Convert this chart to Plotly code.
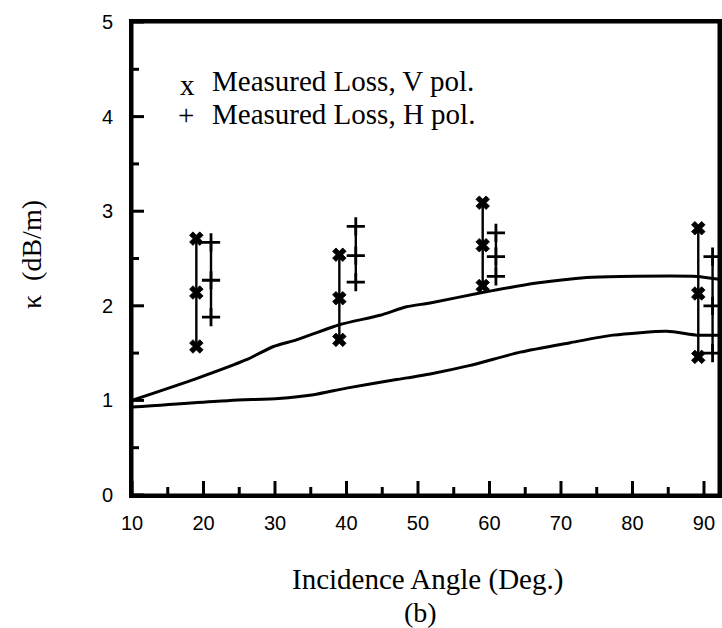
import plotly.graph_objects as go

# ---- data ----
v_angle = [19.0, 39.0, 59.05, 89.2]
v_high = [2.71, 2.54, 3.09, 2.82]
v_mid = [2.14, 2.08, 2.64, 2.13]
v_low = [1.57, 1.64, 2.21, 1.46]

h_angle = [21.05, 41.3, 60.9, 91.2]
h_high = [2.67, 2.84, 2.77, 2.52]
h_mid = [2.27, 2.53, 2.52, 2.00]
h_low = [1.88, 2.25, 2.31, 1.50]

upper_angle = [10, 19, 26, 29.8, 33, 39, 44.7, 48.4, 51.7, 59, 66.6, 73.6, 78.3, 89, 92.1]
upper_k = [1.00, 1.23, 1.43, 1.57, 1.64, 1.80, 1.90, 1.99, 2.03, 2.14, 2.24, 2.30, 2.31, 2.31, 2.28]

lower_angle = [10, 23.7, 30.5, 35.4, 40, 47, 51.7, 57.3, 64.3, 71.3, 77.3, 84.8, 89, 92.1]
lower_k = [0.93, 1.00, 1.02, 1.06, 1.13, 1.22, 1.28, 1.37, 1.51, 1.61, 1.69, 1.73, 1.69, 1.69]

x_major = [10, 20, 30, 40, 50, 60, 70, 80, 90]
x_minor = [15, 25, 35, 45, 55, 65, 75, 85]
y_major = [0, 1, 2, 3, 4, 5]
y_minor = [0.5, 1.5, 2.5, 3.5, 4.5]

legend_v = "Measured Loss, V pol."
legend_h = "Measured Loss, H pol."
x_title = "Incidence Angle (Deg.)"
sub_title = "(b)"
y_title = "κ  (dB/m)"

X_RANGE = [10, 92.1]
Y_RANGE = [0, 5]
PLOT_W, PLOT_H = 587, 473
X_PER_PX = (X_RANGE[1] - X_RANGE[0]) / PLOT_W
Y_PER_PX = (Y_RANGE[1] - Y_RANGE[0]) / PLOT_H

fig = go.Figure()

fig.add_trace(go.Scatter(x=upper_angle, y=upper_k, mode="lines",
                         line=dict(color="black", width=3, shape="spline", smoothing=0.6),
                         showlegend=False))
fig.add_trace(go.Scatter(x=lower_angle, y=lower_k, mode="lines",
                         line=dict(color="black", width=3, shape="spline", smoothing=0.6),
                         showlegend=False))


def grouped(xs, *ys):
    gx, gy = [], []
    for i, x in enumerate(xs):
        for series in ys:
            gx.append(x)
            gy.append(series[i])
        gx.append(None)
        gy.append(None)
    return gx, gy


vx, vy = grouped(v_angle, v_high, v_mid, v_low)
hx, hy = grouped(h_angle, h_high, h_mid, h_low)

fig.add_trace(go.Scatter(x=vx, y=vy, mode="lines+markers",
                         line=dict(color="black", width=2.4),
                         marker=dict(symbol="x", size=12, color="black",
                                     line=dict(color="black", width=0.8)),
                         showlegend=False))
fig.add_trace(go.Scatter(x=hx, y=hy, mode="lines+markers",
                         line=dict(color="black", width=2.4),
                         marker=dict(symbol="cross-thin", size=13, color="black",
                                     line=dict(color="black", width=2.8)),
                         showlegend=False))

# inward tick marks, built from the tick value lists
tx, ty = [], []
for vals, length in ((x_major, 14), (x_minor, 8)):
    for t in vals:
        tx += [t, t, None]
        ty += [Y_RANGE[0], Y_RANGE[0] + length * Y_PER_PX, None]
for vals, length in ((y_major, 12), (y_minor, 7)):
    for t in vals:
        tx += [X_RANGE[0], X_RANGE[0] + length * X_PER_PX, None]
        ty += [t, t, None]
fig.add_trace(go.Scatter(x=tx, y=ty, mode="lines", line=dict(color="black", width=3),
                         cliponaxis=False, showlegend=False, hoverinfo="skip"))

serif = "Liberation Serif, Times New Roman, serif"
sans = "Liberation Sans, Arial, sans-serif"


def px(xp):
    return (xp - 132) / PLOT_W


def py(yp):
    return (495 - yp) / PLOT_H


annotations = [
    dict(text="x", x=px(178), y=py(85), xref="paper", yref="paper",
         xanchor="left", yanchor="middle", showarrow=False,
         font=dict(family=serif, size=29, color="black")),
    dict(text="+", x=px(176), y=py(115), xref="paper", yref="paper",
         xanchor="left", yanchor="middle", showarrow=False,
         font=dict(family=serif, size=29, color="black")),
    dict(text=legend_v, x=px(210), y=py(81), xref="paper", yref="paper",
         xanchor="left", yanchor="middle", showarrow=False,
         font=dict(family=serif, size=29, color="black")),
    dict(text=legend_h, x=px(210), y=py(114), xref="paper", yref="paper",
         xanchor="left", yanchor="middle", showarrow=False,
         font=dict(family=serif, size=29, color="black")),
    dict(text=x_title, x=px(428), y=py(579), xref="paper", yref="paper",
         xanchor="center", yanchor="middle", showarrow=False,
         font=dict(family=serif, size=29, color="black")),
    dict(text=sub_title, x=px(420), y=py(612), xref="paper", yref="paper",
         xanchor="center", yanchor="middle", showarrow=False,
         font=dict(family=serif, size=28, color="black")),
    dict(text=y_title, x=px(31), y=py(255), xref="paper", yref="paper",
         xanchor="center", yanchor="middle", showarrow=False, textangle=-90,
         font=dict(family=serif, size=28, color="black")),
]

shapes = [dict(type="rect", xref="paper", yref="paper", x0=0, x1=1, y0=0, y1=1,
               line=dict(color="black", width=3), fillcolor="rgba(0,0,0,0)", layer="above")]

fig.update_layout(
    width=722, height=628,
    margin=dict(l=132, r=3, t=22, b=133, autoexpand=False),
    paper_bgcolor="white", plot_bgcolor="white",
    showlegend=False,
    annotations=annotations,
    shapes=shapes,
)
fig.update_xaxes(range=X_RANGE, tickmode="array", tickvals=x_major,
                 ticktext=[str(t) for t in x_major], ticks="",
                 showline=True, linecolor="black", linewidth=3, mirror=True,
                 showgrid=False, zeroline=False,
                 tickfont=dict(family=sans, size=20, color="black"),
                 ticklabelstandoff=8)
fig.update_yaxes(range=Y_RANGE, tickmode="array", tickvals=y_major,
                 ticktext=[str(t) for t in y_major], ticks="",
                 showline=True, linecolor="black", linewidth=3, mirror=True,
                 showgrid=False, zeroline=False,
                 tickfont=dict(family=sans, size=20, color="black"),
                 ticklabelstandoff=12)

fig.write_html("out.html")
